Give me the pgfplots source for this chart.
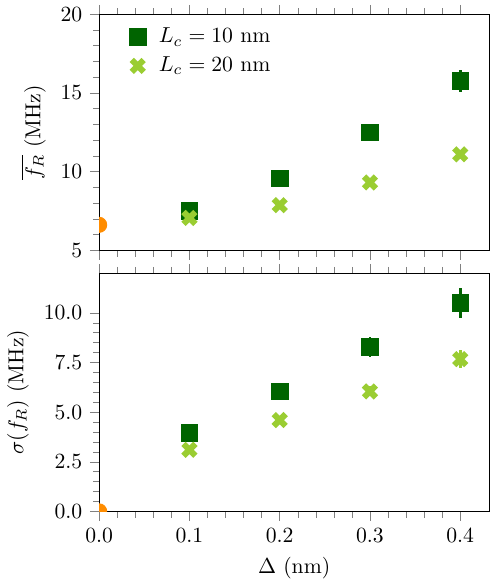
\documentclass[border=0pt]{standalone}
\usepackage{pgfplots}
\pgfplotsset{compat=1.18}
\definecolor{dg}{RGB}{0,100,0}
\definecolor{yg}{RGB}{154,205,50}
\definecolor{org}{RGB}{255,140,0}
\begin{document}
\begin{tikzpicture}[trim axis right]
\pgfplotsset{every axis/.style={scale only axis, width=180pt, xmin=0, xmax=0.432,
  clip marker paths=true,
  xtick={0,0.1,0.2,0.3,0.4}, minor x tick num=4, minor y tick num=4,
  tick align=outside, tick pos=both, xticklabel style={/pgf/number format/fixed,/pgf/number format/precision=1,/pgf/number format/fixed zerofill}}}
\begin{axis}[name=top, height=109pt, ymin=5, ymax=20, ytick={5,10,15,20},
  xticklabels={}, ylabel={$\overline{f_R}$ (MHz)},
  legend style={draw=none, at={(0.06,0.98)}, anchor=north west, fill=none, row sep=1pt, column sep=4pt},
  legend cell align=left]
\addplot[only marks, mark=square*, mark size=3.8pt, color=dg, error bars/.cd, y dir=both, y explicit, error bar style={line width=1.2pt}, error mark=none]
 coordinates {(0.1,7.5)+-(0,0.15) (0.2,9.56)+-(0,0.15) (0.3,12.5)+-(0,0.4) (0.4,15.75)+-(0,0.7)};
\addlegendentry{$L_c = 10$ nm}
\addplot[only marks, mark=x, mark size=3.9pt, line width=2.8pt, color=yg, error bars/.cd, y dir=both, y explicit, error bar style={line width=1.2pt}, error mark=none]
 coordinates {(0.1,7.06)+-(0,0.1) (0.2,7.87)+-(0,0.1) (0.3,9.31)+-(0,0.15) (0.4,11.1)+-(0,0.3)};
\addlegendentry{$L_c = 20$ nm}
\addplot[only marks, mark=*, mark size=3.5pt, color=org, forget plot] coordinates {(0,6.62)};
\end{axis}
\begin{axis}[at={(top.south west)}, anchor=north west, yshift=-10.5pt, height=110pt,
  ymin=0, ymax=12, ytick={0,2.5,5,7.5,10}, yticklabel style={/pgf/number format/fixed,/pgf/number format/precision=1,/pgf/number format/fixed zerofill},
  ylabel={$\sigma(f_R)$ (MHz)}, xlabel={$\Delta$ (nm)}]
\addplot[only marks, mark=square*, mark size=3.8pt, color=dg, error bars/.cd, y dir=both, y explicit, error bar style={line width=1.2pt}, error mark=none]
 coordinates {(0.1,3.96)+-(0,0.15) (0.2,6.04)+-(0,0.15) (0.3,8.27)+-(0,0.5) (0.4,10.5)+-(0,0.75)};
\addplot[only marks, mark=x, mark size=3.9pt, line width=2.8pt, color=yg, error bars/.cd, y dir=both, y explicit, error bar style={line width=1.2pt}, error mark=none]
 coordinates {(0.1,3.1)+-(0,0.15) (0.2,4.6)+-(0,0.15) (0.3,6.04)+-(0,0.25) (0.4,7.67)+-(0,0.45)};
\addplot[only marks, mark=*, mark size=3.5pt, color=org] coordinates {(0,0)};
\end{axis}
\end{tikzpicture}
\end{document}
